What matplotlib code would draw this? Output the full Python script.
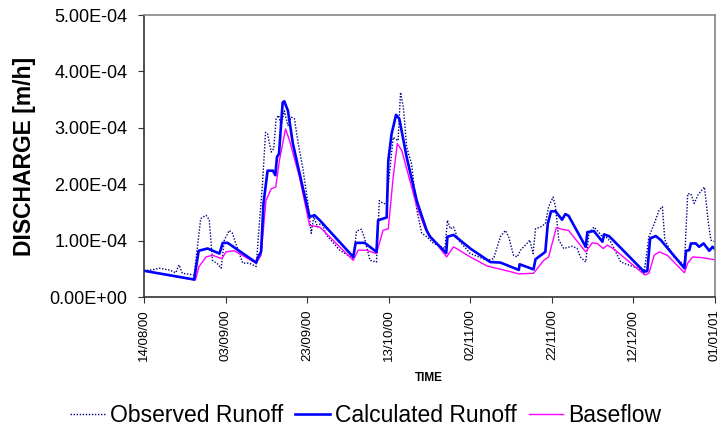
import numpy as np
import matplotlib as mpl
mpl.use('Agg')
import matplotlib.pyplot as plt
import matplotlib.dates as mdates
from matplotlib.ticker import FuncFormatter, MultipleLocator
import datetime

plt.rcParams['font.family'] = ['Liberation Sans', 'DejaVu Sans']

start = datetime.date(2000, 8, 14)
end = datetime.date(2001, 1, 1)

# days after 14/08/00, discharge in units of 1e-4 m/h
obs_day = [0, 2.0, 3.7, 6.1, 7.8, 8.6, 9.4, 12.3, 13.1, 13.9, 15.2, 16.0, 16.8, 18.0, 18.9,
           19.7, 20.9, 21.7, 22.5, 24.2, 25.8, 27.5, 28.1, 29.0, 29.8, 30.3, 31.2, 31.8,
           32.4, 33.0, 33.6, 34.4, 35.3, 36.1, 36.9, 37.7, 38.9, 40.2, 41.0, 41.6, 42.6,
           43.5, 44.7, 48.0, 51.3, 52.1, 53.3, 54.1, 55.4, 57.0, 57.7, 58.6, 59.5, 60.1,
           61.1, 62.3, 62.9, 63.6, 64.4, 65.6, 66.9, 68.1, 69.3, 71.0, 73.8, 74.4, 75.1,
           75.9, 77.1, 80.0, 84.1, 85.7, 87.4, 88.6, 89.4, 90.6, 91.5, 92.3, 93.9, 94.6,
           95.4, 96.0, 97.2, 98.4, 99.2, 100.3, 100.9, 101.7, 102.9, 105.0, 106.2, 107.0,
           108.3, 109.1, 110.3, 111.1, 112.4, 113.2, 114.4, 116.9, 121.0, 122.6, 123.8,
           125.1, 126.3, 127.1, 127.7, 129.9, 132.5, 133.3, 134.1, 134.9, 135.9, 136.7,
           137.4, 137.8, 138.4, 139.0, 140.0]
obs_val = [0.465, 0.48, 0.51, 0.48, 0.43, 0.57, 0.42, 0.39, 0.89, 1.39, 1.45, 1.37, 0.65, 0.59, 0.51,
           1.01, 1.18, 1.13, 0.95, 0.60, 0.60, 0.54, 1.13, 1.95, 2.92, 2.89, 2.57, 2.63,
           3.16, 3.22, 3.04, 3.30, 3.04, 3.19, 3.16, 2.77, 2.30, 1.66, 1.13, 1.42, 1.24,
           1.33, 1.10, 0.83, 0.68, 1.17, 1.20, 1.04, 0.65, 0.62, 1.71, 1.66, 1.65, 2.13,
           2.83, 2.77, 3.63, 3.36, 2.66, 2.36, 1.54, 1.13, 1.07, 0.95, 0.86, 1.36, 1.21,
           1.24, 1.01, 0.77, 0.65, 0.68, 1.07, 1.18, 1.07, 0.74, 0.71, 0.83, 0.95, 1.01,
           0.77, 1.21, 1.24, 1.30, 1.60, 1.77, 1.60, 1.01, 0.86, 0.90, 0.86, 0.71,
           0.62, 1.13, 1.24, 1.18, 1.07, 1.07, 0.98, 0.62, 0.51, 0.42, 1.07,
           1.30, 1.54, 1.60, 1.01, 0.71, 0.57, 1.83, 1.83, 1.66, 1.82, 1.89,
           1.95, 1.71, 1.30, 1.01, 0.98]

calc_day = [0, 12.3, 13.4, 15.6, 18.5, 19.3, 20.5, 27.5, 28.0, 28.7, 29.3, 30.3, 31.6, 32.2,
            32.6, 33.1, 34.0, 34.4, 35.3, 36.5, 38.9, 40.6, 41.8, 43.1, 51.3, 51.9, 54.1,
            57.0, 57.4, 59.5, 59.9, 60.7, 61.8, 62.6, 64.4, 66.9, 69.3, 70.1, 74.1, 74.4,
            75.9, 80.0, 84.9, 87.4, 91.9, 92.1, 95.5, 96.0, 98.4, 99.0, 99.8, 100.9, 102.5,
            103.3, 104.1, 108.3, 108.7, 110.3, 112.4, 112.8, 114.0, 115.4, 122.6, 123.4,
            124.1, 125.5, 126.7, 132.5, 132.9, 133.7, 134.1, 135.3, 136.1, 137.2, 138.6,
            139.4, 140.0]
calc_val = [0.465, 0.31, 0.82, 0.86, 0.77, 0.96, 0.96, 0.61, 0.71, 0.80, 1.66, 2.24, 2.24, 2.16,
            2.48, 2.54, 3.45, 3.47, 3.30, 2.72, 1.95, 1.42, 1.45, 1.36, 0.71, 0.96, 0.96,
            0.80, 1.36, 1.41, 2.42, 2.89, 3.23, 3.16, 2.48, 1.70, 1.18, 1.07, 0.78, 1.07,
            1.10, 0.86, 0.62, 0.61, 0.48, 0.58, 0.49, 0.67, 0.80, 1.30, 1.52, 1.52, 1.37,
            1.47, 1.44, 0.89, 1.15, 1.17, 0.98, 1.11, 1.08, 0.98, 0.45, 0.46,
            1.04, 1.08, 1.01, 0.51, 0.82, 0.83, 0.95, 0.95, 0.89, 0.95, 0.82,
            0.89, 0.85]

base_day = [0, 12.6, 13.5, 15.2, 16.8, 19.1, 20.1, 22.1, 27.5, 28.7, 29.9, 31.2, 32.3, 33.2,
            34.7, 35.7, 38.1, 40.6, 43.1, 51.3, 52.5, 54.5, 57.0, 58.6, 59.9, 61.1, 62.1,
            63.2, 66.9, 69.0, 74.2, 75.9, 80.0, 84.1, 89.8, 91.9, 95.5, 98.0, 99.2, 101.1,
            102.5, 104.1, 108.3, 109.9, 111.1, 112.6, 113.6, 115.4, 122.8, 123.8, 125.1,
            126.3, 128.3, 132.5, 133.3, 134.5, 136.5, 140.0]
base_val = [0.465, 0.30, 0.54, 0.71, 0.74, 0.68, 0.80, 0.82, 0.60, 0.74, 1.71, 1.92, 1.95, 2.42,
            2.98, 2.77, 2.13, 1.27, 1.24, 0.65, 0.83, 0.83, 0.77, 1.18, 1.21, 2.13, 2.72,
            2.60, 1.60, 1.20, 0.71, 0.89, 0.71, 0.55, 0.45, 0.41, 0.42, 0.65, 0.71, 1.23,
            1.20, 1.18, 0.80, 0.96, 0.95, 0.86, 0.92, 0.84, 0.39, 0.42, 0.74,
            0.80, 0.74, 0.43, 0.60, 0.71, 0.70, 0.66]

x0 = mdates.date2num(start)

fig = plt.figure(figsize=(7.17, 4.29), dpi=100)
ax = fig.add_axes([144 / 717, 1 - 297 / 429, (715 - 144) / 717, (297 - 15) / 429])

ax.plot(x0 + np.array(obs_day), np.array(obs_val) * 1e-4, color='#000080', lw=1.0,
        ls=(0, (1.0, 1.2)), label='Observed Runoff')
ax.plot(x0 + np.array(base_day), np.array(base_val) * 1e-4, color='#ff00ff', lw=1.0,
        label='Baseflow')
ax.plot(x0 + np.array(calc_day), np.array(calc_val) * 1e-4, color='#0000ff', lw=1.9,
        label='Calculated Runoff')

ax.set_xlim(x0, mdates.date2num(end))
ax.set_ylim(0, 5e-4)
ax.yaxis.set_major_locator(MultipleLocator(1e-4))
ax.yaxis.set_major_formatter(FuncFormatter(lambda v, p: '{:.2E}'.format(v)))

ticks = [x0 + d for d in range(0, 141, 20)]
ax.set_xticks(ticks)
ax.xaxis.set_major_formatter(mdates.DateFormatter('%d/%m/%y'))
plt.setp(ax.get_xticklabels(), rotation=90, fontsize=9.5)
ax.tick_params(axis='y', labelsize=13, length=4, pad=8, color='#333333')
ax.tick_params(axis='x', length=4, pad=5, color='#333333')

for s in ['left', 'bottom']:
    ax.spines[s].set_color('#333333')
    ax.spines[s].set_linewidth(1.2)
for s in ['top', 'right']:
    ax.spines[s].set_color('#888888')
    ax.spines[s].set_linewidth(1.2)

fig.text(25 / 717, 1 - 156 / 429, 'DISCHARGE [m/h]', rotation=90, ha='center', va='center',
         fontsize=16.5, fontweight='bold')
fig.text(429 / 717, 1 - 378 / 429, 'TIME', ha='center', va='center', fontsize=8.5,
         fontweight='bold')

handles, labels = ax.get_legend_handles_labels()
order = [0, 2, 1]
fig.legend([handles[i] for i in order], [labels[i] for i in order], ncol=3, loc='center',
           bbox_to_anchor=(366 / 717, 1 - 416 / 429), frameon=False, fontsize=16.5,
           handlelength=1.5, handletextpad=0.25, columnspacing=0.5)

plt.savefig('out.png', dpi=100)
